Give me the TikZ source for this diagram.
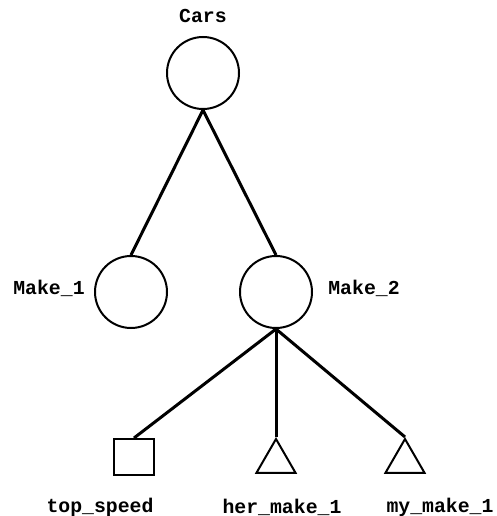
\documentclass[tikz,border=0pt]{standalone}
\usepackage{fontspec}
\setmonofont{Liberation Mono}
\usetikzlibrary{shapes.geometric}
\tikzset{
  circ/.style={circle, draw, line width=2pt, minimum size=72pt, inner sep=0pt},
  sqbox/.style={rectangle, draw, line width=2pt, minimum width=40pt, minimum height=36pt, inner sep=0pt},
  tri/.style={regular polygon, regular polygon sides=3, draw, line width=2pt, minimum size=45pt, inner sep=0pt},
  lbl/.style={font=\fontsize{19.8}{24}\selectfont\ttfamily\bfseries, inner sep=0pt},
  edge/.style={line width=3pt}
}
\begin{document}
\begin{tikzpicture}[x=1pt,y=-1pt]
\useasboundingbox (0,0) rectangle (497,516);
\node[circ] (cars) at (203,73) {};
\node[circ] (m1) at (131,292) {};
\node[circ] (m2) at (276,292) {};
\node[sqbox] (sq) at (134,457) {};
\node[tri] (t1) at (276,461.5) {};
\node[tri] (t2) at (405,461.5) {};
\node[lbl] (lcars) at (203,16) {Cars};
\node[lbl] (lm1) at (49,288) {Make\_1};
\node[lbl] (lm2) at (364,288) {Make\_2};
\node[lbl] (lsq) at (100,507) {top\_speed};
\node[lbl] (lt1) at (282,507) {her\_make\_1};
\node[lbl] (lt2) at (440,507) {my\_make\_1};
\draw[edge] (cars.south) -- (m1.north);
\draw[edge] (cars.south) -- (m2.north);
\draw[edge] (m2.south) -- (sq.north);
\draw[edge] (m2.south) -- (t1.corner 1);
\draw[edge] (m2.south) -- (t2.corner 1);
\end{tikzpicture}
\end{document}
